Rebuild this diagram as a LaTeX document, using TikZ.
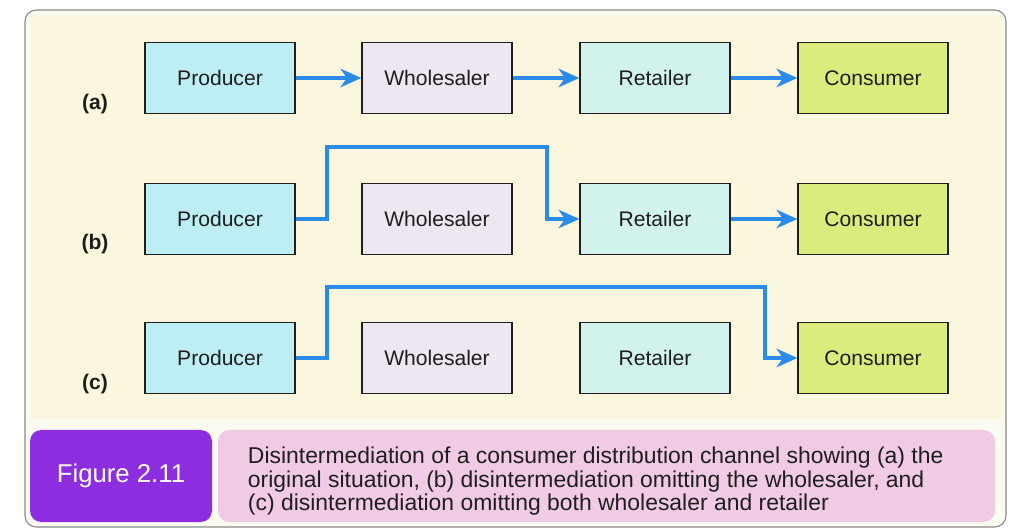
\documentclass[tikz,border=0pt]{standalone}
\usepackage{fontspec}
\setmainfont{Liberation Sans}
\usetikzlibrary{arrows.meta, positioning, calc}
\definecolor{flowblue}{HTML}{2A8BEA}
\definecolor{prodcyan}{HTML}{BCEEF3}
\definecolor{wholelav}{HTML}{EEE7F1}
\definecolor{retcyan}{HTML}{D2F2EE}
\definecolor{conslime}{HTML}{DCEC7C}
\definecolor{panelbg}{HTML}{FBF7DE}
\definecolor{framebg}{HTML}{FCFBF1}
\definecolor{framegray}{HTML}{8A8A86}
\definecolor{figpurple}{HTML}{8C2EE0}
\definecolor{captpink}{HTML}{F1CBE6}
\definecolor{inkdark}{HTML}{1E1E1E}

\begin{document}
\begin{tikzpicture}[
  chanbox/.style={
    draw=inkdark, line width=0.9pt, fill=#1,
    minimum width=37.5mm, minimum height=17.75mm,
    font=\fontsize{15}{18}\selectfont, text=inkdark, inner sep=0pt
  },
  arr/.style={-{Stealth[length=5.2mm, width=4.6mm, inset=1.6mm]},
    line width=2.9pt, flowblue},
  rowlabel/.style={font=\fontsize{15}{18}\selectfont\bfseries, text=inkdark},
]
\useasboundingbox (0,0) rectangle (25.4,13.275);

% Background
\fill[white] (0,0) rectangle (25.4,13.275);
\fill[framebg, rounded corners=8pt] (0.625,0.1) rectangle (25.15,13.025);
\fill[panelbg] (0.75,2.8) rectangle (25.05,12.9);
\draw[framegray, rounded corners=8pt, line width=0.8pt] (0.625,0.1) rectangle (25.15,13.025);

% ---- Row (a): full channel ----
\node[chanbox=prodcyan] (pa) at (5.5,11.325) {Producer};
\node[chanbox=wholelav] (wa) at (10.925,11.325) {Wholesaler};
\node[chanbox=retcyan]  (ra) at (16.375,11.325) {Retailer};
\node[chanbox=conslime] (ca) at (21.825,11.325) {Consumer};
\node[rowlabel] (la) at (2.375,10.675) {(a)};

\draw[arr] (pa.east) -- (wa.west);
\draw[arr] (wa.east) -- (ra.west);
\draw[arr] (ra.east) -- (ca.west);

% ---- Row (b): wholesaler omitted ----
\node[chanbox=prodcyan] (pb) at (5.5,7.8) {Producer};
\node[chanbox=wholelav] (wb) at (10.925,7.8) {Wholesaler};
\node[chanbox=retcyan]  (rb) at (16.375,7.8) {Retailer};
\node[chanbox=conslime] (cb) at (21.825,7.8) {Consumer};
\node[rowlabel] (lb) at (2.375,7.175) {(b)};

\coordinate (bup1) at (8.175,9.6);
\coordinate (bup2) at (13.675,9.6);
\draw[arr] (pb.east) -| (bup1) -- (bup2) |- (rb.west);
\draw[arr] (rb.east) -- (cb.west);

% ---- Row (c): wholesaler and retailer omitted ----
\node[chanbox=prodcyan] (pc) at (5.5,4.325) {Producer};
\node[chanbox=wholelav] (wc) at (10.925,4.325) {Wholesaler};
\node[chanbox=retcyan]  (rc) at (16.375,4.325) {Retailer};
\node[chanbox=conslime] (cc) at (21.825,4.325) {Consumer};
\node[rowlabel] (lc) at (2.375,3.675) {(c)};

\coordinate (cup1) at (8.175,6.1);
\coordinate (cup2) at (19.125,6.1);
\draw[arr] (pc.east) -| (cup1) -- (cup2) |- (cc.west);

% ---- Caption ----
\node[fill=figpurple, rounded corners=8pt, minimum width=45.5mm, minimum height=23mm,
  font=\fontsize{18.3}{21}\selectfont, text=white] (fig) at (3.025,1.375)
  {Figure 2.11};
\node[fill=captpink, rounded corners=8pt, minimum width=194.25mm, minimum height=23mm]
  (capbox) at (15.1625,1.375) {};
\node[font=\fontsize{16.3}{16.8}\selectfont, text=inkdark, align=left, anchor=west]
  (captxt) at (6.075,1.24)
  {Disintermediation of a consumer distribution channel showing (a) the\\
   original situation, (b) disintermediation omitting the wholesaler, and\\
   (c) disintermediation omitting both wholesaler and retailer};

\end{tikzpicture}
\end{document}
